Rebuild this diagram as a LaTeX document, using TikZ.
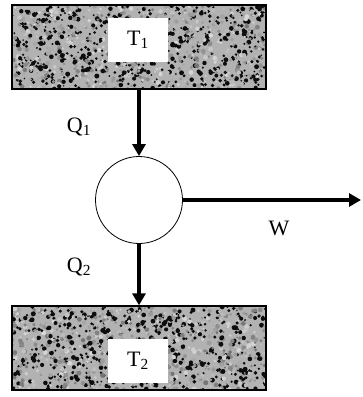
\documentclass[tikz,border=0pt]{standalone}
\usepackage{fontspec}
\setmainfont{Liberation Serif}
\usetikzlibrary{arrows.meta, calc, positioning}

\begin{document}
\begin{tikzpicture}[
        x=1pt, y=-1pt,
        font=\fontsize{22}{26}\selectfont,
        reservoir/.style={draw, line width=1.3pt, fill=gray!60, minimum width=254pt, minimum height=84pt,
            path picture={
                \pgfmathsetseed{#1}
                \foreach \k in {1,...,1300}{
                    \pgfmathsetmacro\rx{rnd}
                    \pgfmathsetmacro\ry{rnd}
                    \pgfmathsetmacro\rr{0.9+1.6*rnd}
                    \pgfmathsetmacro\gv{rnd<0.4 ? 95 : int(15+40*rnd)}
                    \fill[black!\gv] ($(path picture bounding box.south west)+(\rx*254pt,\ry*84pt)$) circle[radius=\rr pt];
                }
            }},
        tempbox/.style={fill=white, minimum width=60pt, minimum height=44pt, inner sep=0pt},
        engine/.style={circle, draw, line width=0.8pt, minimum size=87pt, inner sep=0pt},
        flow/.style={-{Triangle[length=12pt, width=13pt]}, line width=3.6pt}
    ]

    \useasboundingbox (0,0) rectangle (363,397);

    \node[reservoir=11] (hot) at (139,47) {};
    \node[tempbox] (tone) at (138,40) {T\textsubscript{1}};
    \node[reservoir=23] (cold) at (139,348) {};
    \node[tempbox] (ttwo) at (138,361) {T\textsubscript{2}};
    \node[engine] (eng) at (139,200) {};
    \coordinate (wend) at (361,200);

    \node (qone) at (79,127) {Q\textsubscript{1}};
    \node (qtwo) at (79,267) {Q\textsubscript{2}};
    \node (wlab) at (279,228) {W};

    \draw[flow] (hot) -- (eng);
    \draw[flow] (eng) -- (cold);
    \draw[flow] (eng) -- (wend);

\end{tikzpicture}
\end{document}
